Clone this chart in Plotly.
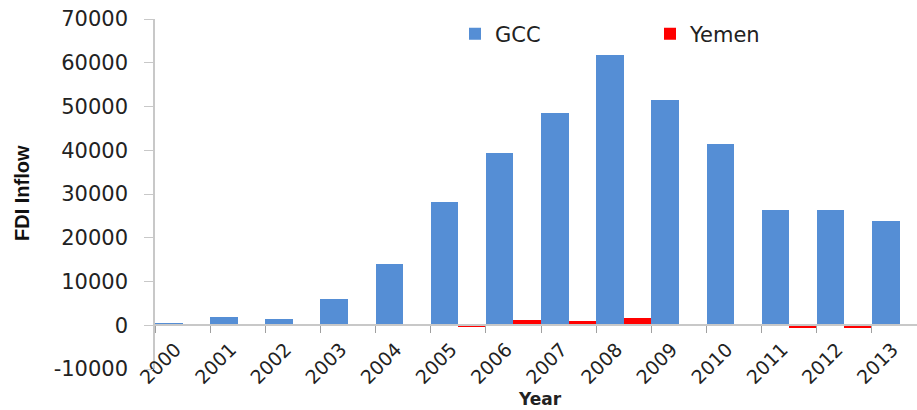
import plotly.graph_objects as go

years = ["2000", "2001", "2002", "2003", "2004", "2005", "2006",
         "2007", "2008", "2009", "2010", "2011", "2012", "2013"]
gcc = [500, 1800, 1500, 6000, 14100, 28200, 39400,
       48500, 61800, 51600, 41400, 26400, 26300, 23900]
yemen = [6, 136, 102, -89, 144, -302, 1121,
         917, 1555, 129, 189, -713, -531, -134]
y_ticks = [-10000, 0, 10000, 20000, 30000, 40000, 50000, 60000, 70000]

W, H = 917, 410
ml, mr, mt, mb = 155, 0, 19, 41
ymin, ymax = -10000, 70000

fig = go.Figure()
fig.add_trace(go.Bar(name="GCC", x=years, y=gcc, marker_color="#558ED5",
                     marker_line_width=0))
fig.add_trace(go.Bar(name="Yemen", x=years, y=yemen, marker_color="#FF0000",
                     marker_line_width=0))

cat_w = 55.15
xr_right = -0.5 + (W - ml - mr) / cat_w

tickfont = dict(family="DejaVu Sans", size=21, color="#222222")
xtickfont = dict(family="DejaVu Sans", size=19, color="#222222")
pw, ph = W - ml - mr, H - mt - mb

fig.update_layout(
    width=W, height=H,
    margin=dict(l=ml, r=mr, t=mt, b=mb, autoexpand=False),
    paper_bgcolor="white", plot_bgcolor="white",
    barmode="group", bargap=0, bargroupgap=0,
    showlegend=True,
    legend=dict(orientation="h", x=(455 - ml) / pw, xanchor="left",
                y=(H - mb - 34) / ph, yanchor="middle",
                font=dict(family="DejaVu Sans", size=21, color="#222222"),
                entrywidth=150, entrywidthmode="pixels",
                bgcolor="rgba(0,0,0,0)"),
    xaxis=dict(type="category", range=[-0.5, xr_right], automargin=False,
               anchor="free", position=(0 - ymin) / (ymax - ymin),
               showline=True, linecolor="#c8c8c8", linewidth=1.5,
               ticks="outside", ticklen=7, tickcolor="#a0a0a0",
               tickson="boundaries", tickangle=-45,
               ticklabelstandoff=5, ticklabelshift=-7,
               tickfont=xtickfont, showgrid=False, zeroline=False),
    yaxis=dict(range=[ymin, ymax], tickvals=y_ticks, automargin=False,
               ticktext=[str(v) for v in y_ticks],
               showline=True, linecolor="#c8c8c8", linewidth=1.5,
               ticks="outside", ticklen=9, tickcolor="#c8c8c8",
               ticklabelstandoff=12,
               tickfont=tickfont, showgrid=False, zeroline=False),
)

def px_to_paper(x, y):
    return (x - ml) / pw, (H - mb - y) / ph

ax, ay = px_to_paper(540, 399)
fig.add_annotation(text="<b>Year</b>", x=ax, y=ay, xref="paper", yref="paper",
                   xanchor="center", yanchor="middle", showarrow=False,
                   font=dict(family="DejaVu Sans", size=17, color="#222222"))
ax, ay = px_to_paper(22, 193)
fig.add_annotation(text="<b>FDI Inflow</b>", x=ax, y=ay, xref="paper", yref="paper",
                   xanchor="center", yanchor="middle", showarrow=False, textangle=-90,
                   font=dict(family="Liberation Sans Narrow, Liberation Sans", size=20,
                             color="#111111"))

fig.write_html("out.html", config={"displayModeBar": False},
               post_script="document.body.style.margin='0';document.body.style.overflow='hidden';")
